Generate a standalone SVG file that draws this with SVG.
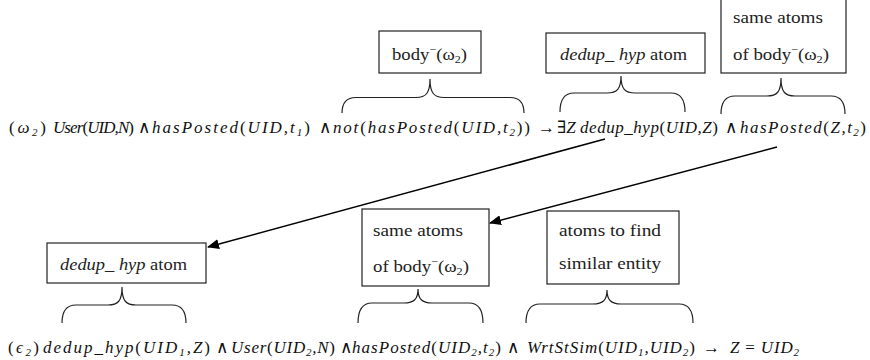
<svg xmlns="http://www.w3.org/2000/svg" width="870" height="360" viewBox="0 0 870 360">
<defs>
<marker id="ah" viewBox="0 0 12 10" refX="11" refY="5" markerWidth="12" markerHeight="10" markerUnits="userSpaceOnUse" orient="auto">
<path d="M0,0 L12,5 L0,10 z" fill="#000"/>
</marker>
</defs>
<style>
.box{fill:#fff;stroke:#222;stroke-width:1.2}
.br{fill:none;stroke:#222;stroke-width:1.2}
.lbl{font-family:"Liberation Serif","DejaVu Serif",serif;font-size:17px;fill:#222}
.it{font-style:italic}
.f{font-family:"Liberation Serif","DejaVu Serif",serif;font-size:17px;font-style:italic;fill:#111}
.up{font-style:normal}
.sub{font-size:11px}
.con{stroke:#000;stroke-width:1.5;fill:none}
</style>
<rect width="870" height="360" fill="#fff"/>

<g id="box-body-top">
<rect class="box" x="379" y="31" width="102" height="42"/>
<text class="lbl" x="392" y="60" textLength="75" lengthAdjust="spacingAndGlyphs">body<tspan dy="-7" font-size="11">−</tspan><tspan dy="7">(ω</tspan><tspan dy="3" font-size="11">2</tspan><tspan dy="-3">)</tspan></text>
<path class="br" d="M342,113 Q342,97.5 356,97.5 L416,97.5 C426,97.5 430,93 430,79 C430,93 434,97.5 444,97.5 L510,97.5 Q524,97.5 524,113"/>
</g>

<g id="box-dedup-top">
<rect class="box" x="546" y="33" width="159" height="40"/>
<text class="lbl" x="560" y="60" textLength="127" lengthAdjust="spacingAndGlyphs"><tspan class="it">dedup_ hyp</tspan> atom</text>
<path class="br" d="M560,112 Q560,93 574,93 L607,93 C617,93 621,89 621,76 C621,89 625,93 635,93 L671,93 Q685,93 685,112"/>
</g>

<g id="box-same-top">
<rect class="box" x="721" y="-2" width="125" height="75"/>
<text class="lbl" x="733" y="23" textLength="90" lengthAdjust="spacingAndGlyphs">same atoms</text>
<text class="lbl" x="733" y="60" textLength="96" lengthAdjust="spacingAndGlyphs">of body<tspan dy="-7" font-size="11">−</tspan><tspan dy="7">(ω</tspan><tspan dy="3" font-size="11">2</tspan><tspan dy="-3">)</tspan></text>
<path class="br" d="M721,114 Q721,96 735,96 L767,96 C777,96 781,92 781,78 C781,92 785,96 795,96 L831,96 Q845,96 845,114"/>
</g>

<g id="box-dedup-bottom">
<rect class="box" x="47" y="243" width="159" height="40"/>
<text class="lbl" x="60" y="270" textLength="127" lengthAdjust="spacingAndGlyphs"><tspan class="it">dedup_ hyp</tspan> atom</text>
<path class="br" d="M62,323 Q62,305 76,305 L108,305 C118,305 122,301 122,287 C122,301 126,305 136,305 L172,305 Q186,305 186,323"/>
</g>

<g id="box-same-bottom">
<rect class="box" x="362" y="209" width="127" height="77"/>
<text class="lbl" x="373" y="236" textLength="90" lengthAdjust="spacingAndGlyphs">same atoms</text>
<text class="lbl" x="373" y="272" textLength="96" lengthAdjust="spacingAndGlyphs">of body<tspan dy="-7" font-size="11">−</tspan><tspan dy="7">(ω</tspan><tspan dy="3" font-size="11">2</tspan><tspan dy="-3">)</tspan></text>
<path class="br" d="M358,323 Q358,303 372,303 L404,303 C414,303 418,299 418,289 C418,299 422,303 432,303 L469,303 Q483,303 483,323"/>
</g>

<g id="box-atoms-bottom">
<rect class="box" x="547" y="211" width="132" height="73"/>
<text class="lbl" x="559" y="236" textLength="102" lengthAdjust="spacingAndGlyphs">atoms to find</text>
<text class="lbl" x="559" y="269" textLength="102" lengthAdjust="spacingAndGlyphs">similar entity</text>
<path class="br" d="M526,323 Q526,304 540,304 L593,304 C603,304 607,300 607,290 C607,300 611,304 621,304 L679,304 Q693,304 693,323"/>
</g>

<g id="formula-omega2">
<text class="f" x="9" y="133" textLength="37" lengthAdjust="spacing"><tspan class="up">(</tspan>ω<tspan dy="3" class="sub">2</tspan><tspan dy="-3" class="up">)</tspan></text>
<text class="f" x="53" y="133" textLength="81" lengthAdjust="spacing">User<tspan class="up">(</tspan>UID,N<tspan class="up">)</tspan></text>
<text class="f up" x="138" y="133">∧</text>
<text class="f" x="152" y="133" textLength="158" lengthAdjust="spacing">hasPosted<tspan class="up">(</tspan>UID,t<tspan dy="3" class="sub">1</tspan><tspan dy="-3" class="up">)</tspan></text>
<text class="f up" x="319" y="133">∧</text>
<text class="f" x="333" y="133" textLength="197" lengthAdjust="spacing">not<tspan class="up">(</tspan>hasPosted<tspan class="up">(</tspan>UID,t<tspan dy="3" class="sub">2</tspan><tspan dy="-3" class="up">))</tspan></text>
<text class="f up" x="538" y="133">→</text>
<text class="f" x="557" y="133"><tspan class="up">∃</tspan>Z</text>
<text class="f" x="580" y="133" textLength="138" lengthAdjust="spacing">dedup_hyp<tspan class="up">(</tspan>UID,Z<tspan class="up">)</tspan></text>
<text class="f up" x="725" y="133">∧</text>
<text class="f" x="740" y="133" textLength="126" lengthAdjust="spacing">hasPosted<tspan class="up">(</tspan>Z,t<tspan dy="3" class="sub">2</tspan><tspan dy="-3" class="up">)</tspan></text>
</g>

<g id="formula-eps2">
<text class="f" x="8" y="353" textLength="31" lengthAdjust="spacing"><tspan class="up">(</tspan>ϵ<tspan dy="3" class="sub">2</tspan><tspan dy="-3" class="up">)</tspan></text>
<text class="f" x="43" y="353" textLength="167" lengthAdjust="spacing">dedup_hyp<tspan class="up">(</tspan>UID<tspan dy="3" class="sub">1</tspan><tspan dy="-3">,Z</tspan><tspan class="up">)</tspan></text>
<text class="f up" x="216" y="353">∧</text>
<text class="f" x="231" y="353" textLength="104" lengthAdjust="spacing">User<tspan class="up">(</tspan>UID<tspan dy="3" class="sub">2</tspan><tspan dy="-3">,N</tspan><tspan class="up">)</tspan></text>
<text class="f up" x="340" y="353">∧</text>
<text class="f" x="352" y="353" textLength="149" lengthAdjust="spacing">hasPosted<tspan class="up">(</tspan>UID<tspan dy="3" class="sub">2</tspan><tspan dy="-3">,t</tspan><tspan dy="3" class="sub">2</tspan><tspan dy="-3" class="up">)</tspan></text>
<text class="f up" x="507" y="353">∧</text>
<text class="f" x="527" y="353" textLength="168" lengthAdjust="spacing">WrtStSim<tspan class="up">(</tspan>UID<tspan dy="3" class="sub">1</tspan><tspan dy="-3">,UID</tspan><tspan dy="3" class="sub">2</tspan><tspan dy="-3" class="up">)</tspan></text>
<text class="f up" x="703" y="353">→</text>
<text class="f" x="730" y="353" textLength="69" lengthAdjust="spacing">Z <tspan class="up">=</tspan> UID<tspan dy="3" class="sub">2</tspan></text>
</g>

<g id="connectors">
<line class="con" x1="605" y1="139" x2="208" y2="247" marker-end="url(#ah)"/>
<line class="con" x1="777" y1="147" x2="490" y2="223" marker-end="url(#ah)"/>
</g>
</svg>
